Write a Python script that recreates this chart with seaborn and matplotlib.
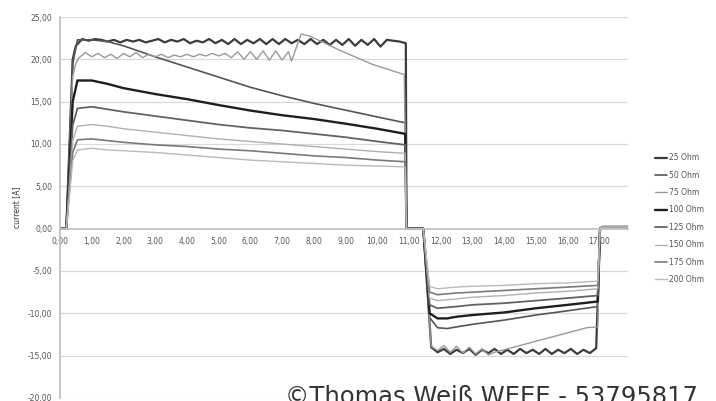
import numpy as np
import pandas as pd
import matplotlib
matplotlib.use('Agg')
import matplotlib.pyplot as plt
from matplotlib.ticker import FuncFormatter
from matplotlib.lines import Line2D
import seaborn as sns

# ---- data (time in s, current in A) ----
series_names = ['25 Ohm', '50 Ohm', '75 Ohm', '100 Ohm', '125 Ohm', '150 Ohm', '175 Ohm', '200 Ohm']

# smooth decaying curves, shared time grid
pos_t = [0.55, 1.0, 1.5, 2.0, 3.0, 4.0, 5.0, 6.0, 7.0, 8.0, 9.0, 10.0, 10.88]
pos_50 = [22.3, 22.3, 22.1, 21.6, 20.3, 19.1, 17.9, 16.7, 15.7, 14.8, 14.0, 13.2, 12.5]
pos_100 = [17.5, 17.5, 17.1, 16.6, 15.9, 15.3, 14.6, 13.95, 13.4, 12.95, 12.4, 11.8, 11.2]
pos_125 = [14.2, 14.4, 14.1, 13.8, 13.3, 12.8, 12.3, 11.9, 11.6, 11.2, 10.8, 10.3, 9.9]
pos_150 = [12.1, 12.3, 12.1, 11.8, 11.4, 11.0, 10.6, 10.3, 10.0, 9.7, 9.4, 9.1, 8.9]
pos_175 = [10.5, 10.6, 10.4, 10.2, 9.9, 9.7, 9.4, 9.2, 8.9, 8.6, 8.4, 8.1, 7.9]
pos_200 = [9.3, 9.5, 9.3, 9.2, 9.0, 8.7, 8.4, 8.1, 7.9, 7.7, 7.5, 7.4, 7.3]

neg_t = [11.65, 11.9, 12.2, 12.5, 13.0, 14.0, 15.0, 16.0, 16.95]
neg_50 = [-10.5, -11.7, -11.8, -11.6, -11.3, -10.8, -10.2, -9.7, -9.2]
neg_100 = [-10.0, -10.6, -10.6, -10.4, -10.2, -9.9, -9.4, -9.0, -8.6]
neg_125 = [-9.0, -9.4, -9.3, -9.2, -9.0, -8.8, -8.5, -8.2, -7.9]
neg_150 = [-8.2, -8.5, -8.4, -8.3, -8.1, -7.9, -7.6, -7.4, -7.1]
neg_175 = [-7.5, -7.8, -7.7, -7.6, -7.5, -7.3, -7.1, -6.9, -6.7]
neg_200 = [-6.8, -7.1, -7.0, -6.9, -6.8, -6.7, -6.5, -6.4, -6.2]

# 25 Ohm: current-limited, ripple sampled every 0.2 s
pos_25 = [21.6, 22.4, 22.2, 22.4, 22.3, 22.1, 22.3, 22.0, 22.3, 22.1,
          22.3, 22.0, 22.2, 22.4, 22.0, 22.3, 22.1, 22.4, 21.9, 22.2,
          22.0, 22.4, 21.9, 22.3, 21.8, 22.4, 21.8, 22.3, 21.9, 22.4,
          21.8, 22.4, 21.8, 22.4, 21.9, 22.3, 21.8, 22.4, 21.8, 22.3,
          21.7, 22.3, 21.7, 22.4, 21.6, 22.3, 21.7, 22.4, 21.5, 22.3,
          22.2, 22.1, 21.9]
neg_25 = [-14.0, -14.6, -14.2, -14.8, -14.3, -14.7, -14.2, -14.9, -14.3, -14.7,
          -14.2, -14.8, -14.3, -14.8, -14.2, -14.7, -14.3, -14.8, -14.2, -14.8,
          -14.3, -14.7, -14.2, -14.8, -14.3, -14.7, -14.1]

# 75 Ohm: ripple every 0.2 s from 0.6 s, then the hump
pos_75 = [20.2, 20.8, 20.3, 20.7, 20.2, 20.6, 20.1, 20.7, 20.3, 20.8,
          20.2, 20.6, 20.3, 20.6, 20.2, 20.5, 20.3, 20.6, 20.3, 20.6,
          20.4, 20.7, 20.4, 20.7, 20.2, 20.9, 20.0, 20.9, 20.0, 21.0,
          19.9, 21.0, 19.9, 20.9]
tail_75_t = [7.3, 7.6, 7.9, 8.8, 9.85, 10.85]
tail_75 = [19.8, 23.0, 22.7, 21.1, 19.4, 18.2]
neg_75 = [-13.9, -14.4, -13.8, -14.6, -13.9, -14.7, -14.0, -14.8, -14.2, -14.9, -14.6]
neg_tail_75_t = [14.5, 15.5, 16.6, 16.95]
neg_tail_75 = [-13.8, -12.8, -11.7, -11.6]

colors = ['#3c3c3c', '#555555', '#9a9a9a', '#1e1e1e', '#626262', '#b0b0b0', '#7a7a7a', '#bababa']
widths = [1.6, 1.2, 1.0, 1.7, 1.3, 1.0, 1.2, 1.0]


def full_curve(t_on, v_on, t_off, v_off, rise_t, rise_v):
    # zero before the pulse, rise, positive plateau, zero gap, negative plateau, back to ~0
    t = [0.0, 0.2] + rise_t + list(t_on) + [10.92, 11.45] + list(t_off) + [17.02, 17.1, 17.9]
    v = [0.0, 0.0] + rise_v + list(v_on) + [0.0, 0.0] + list(v_off) + [0.0, 0.2, 0.2]
    return t, v


curves = {}
t25_on = list(0.5 + 0.2 * np.arange(len(pos_25)))
t25_off = list(11.7 + 0.2 * np.arange(len(neg_25)))
curves['25 Ohm'] = full_curve(t25_on, pos_25, t25_off, neg_25, [0.4], [20.0])
curves['50 Ohm'] = full_curve(pos_t, pos_50, neg_t, neg_50, [0.4], [19.5])
t75_on = list(0.6 + 0.2 * np.arange(len(pos_75))) + tail_75_t
t75_off = list(11.7 + 0.2 * np.arange(len(neg_75))) + neg_tail_75_t
curves['75 Ohm'] = full_curve(t75_on, pos_75 + tail_75, t75_off, neg_75 + neg_tail_75,
                              [0.4, 0.5], [18.0, 19.5])
curves['100 Ohm'] = full_curve(pos_t, pos_100, neg_t, neg_100, [0.4], [15.0])
curves['125 Ohm'] = full_curve(pos_t, pos_125, neg_t, neg_125, [0.4], [12.2])
curves['150 Ohm'] = full_curve(pos_t, pos_150, neg_t, neg_150, [0.4], [10.4])
curves['175 Ohm'] = full_curve(pos_t, pos_175, neg_t, neg_175, [0.4], [9.0])
curves['200 Ohm'] = full_curve(pos_t, pos_200, neg_t, neg_200, [0.4], [8.0])

rows = []
for name in series_names:
    t, v = curves[name]
    rows.append(pd.DataFrame({'time': t, 'current': v, 'load': name}))
df = pd.concat(rows, ignore_index=True)

# ---- plot ----
sns.set_theme(style='white')
plt.rcParams['font.family'] = ['DejaVu Sans']

fig = plt.figure(figsize=(7.16, 4.01), dpi=100)
ax = fig.add_axes([0.0838, 0.0075, 0.7932, 0.9501])

for y in range(-20, 26, 5):
    if y != 0:
        ax.axhline(y, color='#d9d9d9', lw=0.9, zorder=0)

for name, c, w in zip(series_names, colors, widths):
    sns.lineplot(data=df[df['load'] == name], x='time', y='current', color=c, lw=w,
                 estimator=None, sort=False, ax=ax, legend=False)

ax.set_xlim(0, 17.9)
ax.set_ylim(-20, 25)
ax.set_xticks(range(0, 18))
ax.set_yticks(range(-20, 26, 5))
fmt = FuncFormatter(lambda v, p: f'{v:.2f}'.replace('.', ','))
ax.xaxis.set_major_formatter(fmt)
ax.yaxis.set_major_formatter(fmt)
ax.tick_params(axis='both', length=0, labelsize=5.5, labelcolor='#555555')
ax.tick_params(axis='x', pad=6)
ax.tick_params(axis='y', pad=5.5)

ax.spines['bottom'].set_position(('data', 0))
ax.spines['bottom'].set_color('#bfbfbf')
ax.spines['left'].set_color('#bfbfbf')
ax.spines['top'].set_visible(False)
ax.spines['right'].set_visible(False)
ax.set_xlabel('')
ax.set_ylabel('current [A]', fontsize=5.5, color='#333333', labelpad=5)

handles = [Line2D([], [], color=c, lw=w) for c, w in zip(colors, widths)]
fig.legend(handles, series_names, loc='upper left', bbox_to_anchor=(0.905, 0.635),
           frameon=False, fontsize=5.5, handlelength=1.6, handletextpad=0.3,
           labelspacing=1.1, labelcolor='#555555')

fig.text(0.398, -0.008, '©Thomas Weiß WEEE - 53795817', fontsize=17.5,
         color='#333333', va='baseline')

fig.savefig('out.png', dpi=100)
